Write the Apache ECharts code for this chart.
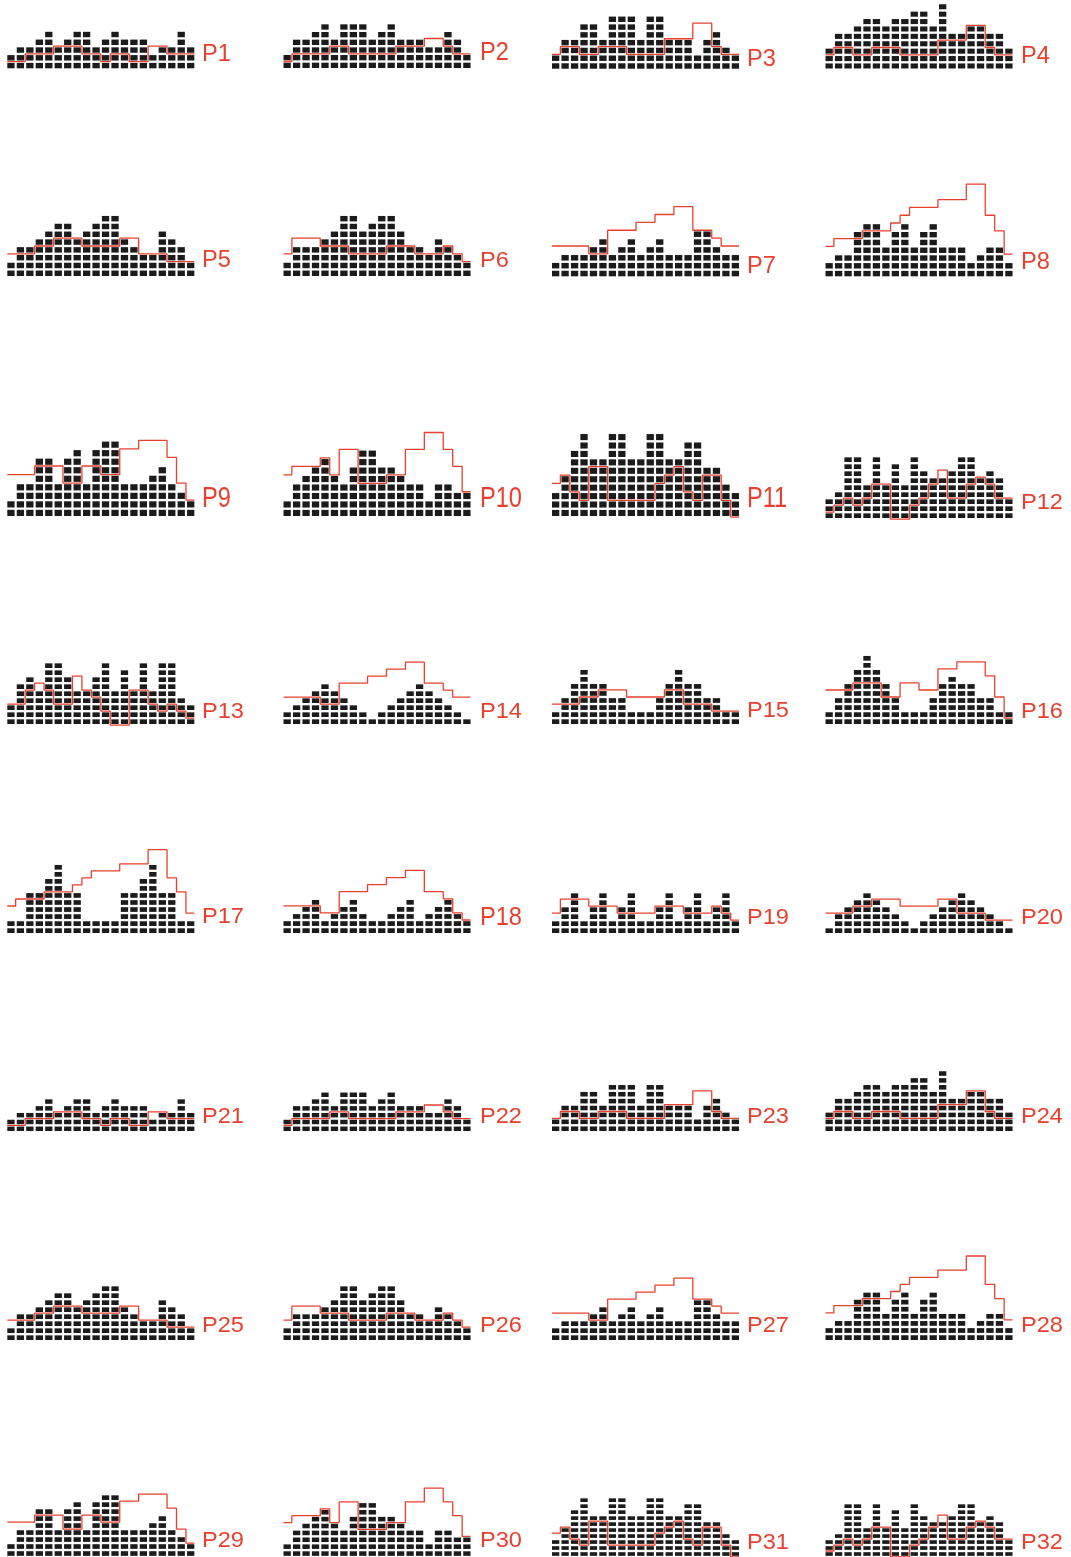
<!DOCTYPE html>
<html><head><meta charset="utf-8">
<script src="https://cdn.jsdelivr.net/npm/echarts@6/dist/echarts.min.js"></script>
<style>html,body{margin:0;padding:0;background:#fff}#c{width:1071px;height:1557px}</style>
</head><body><div id="c"></div>
<script>
// ---- data: stacked cell counts (bars) and red step-line levels per panel ----
const bars_P1  = [2,3,3,4,5,3,4,5,5,3,4,5,4,4,4,2,3,3,5,3];
const line_P1  = [1,1,2,2,2,3,3,3,2,2,1,2,2,1,1,3,3,2,2,2];
const bars_P2  = [2,4,4,5,6,4,6,6,6,4,5,6,4,4,4,3,3,5,4,2];
const line_P2  = [1,2,2,2,2,3,3,2,2,2,2,2,3,3,3,4,4,3,2,2];
const bars_P3  = [2,4,4,6,6,4,7,7,7,4,7,7,4,4,4,2,4,5,3,2];
const line_P3  = [2,3,3,2,2,3,3,3,2,2,2,2,4,4,4,6,6,3,2,2];
const bars_P4  = [3,5,5,6,7,7,6,7,7,8,8,6,9,5,5,6,6,5,5,3];
const line_P4  = [2,3,3,2,2,3,3,3,2,2,2,2,4,4,4,6,6,3,2,2];
const bars_P5  = [2,4,4,5,6,7,7,5,6,7,8,8,5,4,3,3,6,5,4,2];
const line_P5  = [3,3,3,4,4,5,5,5,4,4,4,4,5,5,3,3,3,2,2,2];
const bars_P6  = [2,4,4,4,5,6,8,8,6,7,8,8,6,4,4,3,5,4,3,2];
const line_P6  = [3,5,5,5,4,4,4,3,3,3,3,4,4,4,3,3,3,4,3,2];
const bars_P7  = [2,3,3,3,4,5,3,4,5,3,4,5,3,3,3,6,6,4,3,3];
const line_P7  = [4,4,4,4,3,3,6,6,6,7,7,8,8,9,9,6,6,5,4,4];
const bars_P8  = [2,3,3,6,7,7,4,6,7,4,6,7,4,4,4,2,3,4,4,2];
const line_P8  = [4,5,5,5,6,6,6,7,8,9,9,9,10,10,10,12,12,8,6,3];
const bars_P9  = [2,4,4,7,7,4,7,8,4,8,9,9,4,4,4,5,6,4,3,2];
const line_P9  = [5,5,5,6,6,6,4,4,6,6,5,5,8,8,9,9,9,7,4,2];
const bars_P10 = [2,4,5,6,7,5,4,6,8,8,6,6,5,4,4,2,4,4,3,3];
const line_P10 = [5,6,6,6,7,5,8,8,4,4,4,5,5,8,8,10,10,8,6,3];
const bars_P11 = [3,5,8,10,7,7,10,10,7,7,10,10,7,7,9,9,6,6,4,3];
const line_P11 = [4,5,3,2,6,6,2,2,2,2,2,4,5,6,3,2,5,5,2,0];
const bars_P12 = [3,4,9,9,5,9,5,8,5,9,7,6,6,7,9,9,6,7,6,3];
const line_P12 = [1,2,3,2,3,5,5,0,0,2,3,5,7,3,3,5,6,5,3,3];
const bars_P13 = [3,6,7,5,9,9,7,5,5,7,9,5,8,5,9,5,9,9,4,3];
const line_P13 = [3,3,5,6,5,3,3,7,5,4,2,0,0,5,5,3,2,3,2,1];
const bars_P14 = [2,3,4,5,6,5,4,3,2,1,2,3,4,5,6,5,4,3,2,1];
const line_P14 = [4,4,4,4,3,3,6,6,6,7,7,8,8,9,9,6,6,5,4,4];
const bars_P15 = [2,4,6,8,6,6,4,4,2,2,2,4,6,8,6,6,4,4,2,2];
const line_P15 = [3,3,3,4,4,5,5,5,4,4,4,4,5,5,3,3,3,2,2,2];
const bars_P16 = [2,4,6,8,10,8,6,4,2,2,2,4,6,7,6,6,4,4,2,2];
const line_P16 = [5,5,5,6,6,6,4,4,6,6,5,5,8,8,9,9,9,7,4,1];
const bars_P17 = [2,2,6,6,8,10,6,6,2,2,2,2,6,6,8,10,6,6,2,2];
const line_P17 = [4,5,5,5,6,6,6,7,8,9,9,9,10,10,10,12,12,8,6,3];
const bars_P18 = [2,3,4,5,2,3,4,5,3,2,2,3,4,5,2,3,4,5,3,2];
const line_P18 = [4,4,4,4,3,3,6,6,6,7,7,8,8,9,9,6,6,5,3,2];
const bars_P19 = [2,4,6,2,4,6,2,4,6,2,2,4,6,2,4,6,2,4,6,2];
const line_P19 = [3,5,5,5,4,4,4,3,3,3,3,4,4,4,3,3,3,4,3,2];
const bars_P20 = [1,3,4,5,6,5,4,3,2,1,2,3,4,5,6,5,4,3,2,1];
const line_P20 = [3,3,3,4,4,5,5,5,4,4,4,4,5,5,3,3,3,2,2,2];
// panels P21–P32 repeat P1–P12
const bars_P21 = bars_P1,  line_P21 = line_P1;
const bars_P22 = bars_P2,  line_P22 = line_P2;
const bars_P23 = bars_P3,  line_P23 = line_P3;
const bars_P24 = bars_P4,  line_P24 = line_P4;
const bars_P25 = bars_P5,  line_P25 = line_P5;
const bars_P26 = bars_P6,  line_P26 = line_P6;
const bars_P27 = bars_P7,  line_P27 = line_P7;
const bars_P28 = bars_P8,  line_P28 = line_P8;
const bars_P29 = bars_P9,  line_P29 = line_P9;
const bars_P30 = bars_P10, line_P30 = line_P10;
const bars_P31 = bars_P11, line_P31 = line_P11;
const bars_P32 = bars_P12, line_P32 = line_P12;

const panelNames = ['P1','P2','P3','P4','P5','P6','P7','P8','P9','P10','P11','P12','P13','P14','P15','P16',
  'P17','P18','P19','P20','P21','P22','P23','P24','P25','P26','P27','P28','P29','P30','P31','P32'];
const panelBars = [bars_P1,bars_P2,bars_P3,bars_P4,bars_P5,bars_P6,bars_P7,bars_P8,bars_P9,bars_P10,bars_P11,bars_P12,
  bars_P13,bars_P14,bars_P15,bars_P16,bars_P17,bars_P18,bars_P19,bars_P20,bars_P21,bars_P22,bars_P23,bars_P24,
  bars_P25,bars_P26,bars_P27,bars_P28,bars_P29,bars_P30,bars_P31,bars_P32];
const panelLines = [line_P1,line_P2,line_P3,line_P4,line_P5,line_P6,line_P7,line_P8,line_P9,line_P10,line_P11,line_P12,
  line_P13,line_P14,line_P15,line_P16,line_P17,line_P18,line_P19,line_P20,line_P21,line_P22,line_P23,line_P24,
  line_P25,line_P26,line_P27,line_P28,line_P29,line_P30,line_P31,line_P32];
const categories = Array.from({length: 20}, (_, i) => String(i + 1));

// ---- layout (positions / sizes) ----
const COL_LEFT = [7.3, 283.5, 552, 825.5];   // left edge of first cell in each panel column
const LABEL_X  = [202, 480, 747, 1021];
const PITCH_X = 9.46, CELL_W = 7.3, GAP_Y = 2.35;
const PITCH_Y = [7.77,7.67,7.78,7.4, 7.8,7.8,7.87,7.78, 8.53,8.47,8.43,7.0, 7.0,7.0,7.05,7.04,
                 7.04,7.08,7.0,7.0, 6.8,6.8,6.9,6.9, 7.0,7.0,7.0,7.1, 7.0,6.9,6.0,6.0];
const BASE_Y  = [68.3,68.0,68.7,68.5, 276,276,276.3,276.3, 516,516,516,518, 724,724,724,724,
                 933,933,933,933, 1131,1131,1131,1131, 1340,1340,1340,1340, 1556,1556,1556,1556];
const LABEL_Y = [54,52.5,59,56, 260.5,261,266,262, 499,499,499,503, 711.5,711.5,711,711.5,
                 917,918,918,918, 1117,1117,1117,1117, 1326,1326,1326,1326, 1541,1541,1543,1543];
const LABEL_CAP = [18,18.5,18,18, 17,16,18,18, 21,21,21.5,16.7, 16.7,16.7,15.5,16.7,
                   16.7,18.5,16.7,16.7, 16.5,16.5,16.5,16.5, 16.5,16.5,16.5,16.5, 16.5,16.5,16.5,16.5];
const RED = '#e8402f', INK = '#1b1b1b';
const FONT_SIZE = 26, FONT = '26px "Liberation Sans Narrow", "Liberation Sans", Arial, sans-serif';

// horizontal squeeze so that "P10" is about 42px wide whatever font is found
const measureCtx = document.createElement('canvas').getContext('2d');
measureCtx.font = FONT;
const SCALE_X = 42 / measureCtx.measureText('P10').width;

const grid = [], xAxis = [], yAxis = [], series = [], graphic = [];
const sideFrac = (PITCH_X - CELL_W) / 2 / PITCH_X;

panelNames.forEach((name, i) => {
  const col = i % 4;
  const bars = panelBars[i], line = panelLines[i];
  const pitch = PITCH_Y[i];
  const maxV = Math.max(...bars, ...line);
  const zeroY = BASE_Y[i] + GAP_Y / 2;
  const h = maxV * pitch;
  grid.push({ left: COL_LEFT[col] - (PITCH_X - CELL_W) / 2, top: zeroY - h, width: 20 * PITCH_X, height: h, containLabel: false });
  xAxis.push({ type: 'category', gridIndex: i, data: categories, show: false, boundaryGap: true });
  xAxis.push({ type: 'value', gridIndex: i, min: 0, max: 20, show: false });
  yAxis.push({ type: 'value', gridIndex: i, min: 0, max: maxV, show: false, splitLine: { show: false } });
  series.push({
    type: 'pictorialBar', xAxisIndex: 2 * i, yAxisIndex: i, data: bars,
    symbol: 'rect', symbolRepeat: true, symbolSize: [CELL_W, pitch - GAP_Y],
    symbolMargin: (GAP_Y / 2) + '!', itemStyle: { color: INK }, silent: true, animation: false, z: 2
  });
  const pts = line.map((v, k) => [k === 0 ? sideFrac : k, v]);
  pts.push([20 - sideFrac, line[line.length - 1]]);
  series.push({
    type: 'line', xAxisIndex: 2 * i + 1, yAxisIndex: i, data: pts, step: 'end',
    symbol: 'none', clip: false, lineStyle: { color: RED, width: 1.3 }, silent: true, animation: false, z: 5
  });
  graphic.push({
    type: 'text', x: LABEL_X[col], y: LABEL_Y[i], scaleX: SCALE_X, scaleY: LABEL_CAP[i] / (0.729 * FONT_SIZE),
    style: { text: name, fill: RED, font: FONT, align: 'left', verticalAlign: 'middle' }, silent: true
  });
});

const chart = echarts.init(document.getElementById('c'), null, { renderer: 'canvas' });
chart.setOption({ backgroundColor: '#ffffff', animation: false, grid, xAxis, yAxis, series, graphic });
</script>
</body></html>
